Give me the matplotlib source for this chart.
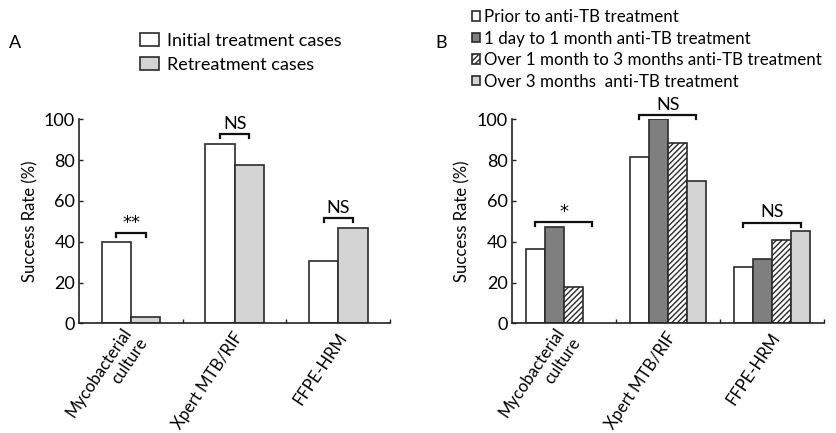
import numpy as np
import matplotlib
matplotlib.use("Agg")
import matplotlib.pyplot as plt
from matplotlib.transforms import ScaledTranslation

plt.rcParams['font.family'] = ['Lato', 'DejaVu Sans']
plt.rcParams['hatch.linewidth'] = 1.0

categories = ["Mycobacterial\nculture", "Xpert MTB/RIF", "FFPE-HRM"]

# Panel A
a_labels = ["Initial treatment cases", "Retreatment cases"]
a_initial = [40, 88, 30.5]
a_retreat = [3, 77.5, 46.5]
a_sig_heights = [44.4, 92.8, 51.5]
a_sig_text = ["**", "NS", "NS"]

# Panel B
b_labels = ["Prior to anti-TB treatment", "1 day to 1 month anti-TB treatment",
            "Over 1 month to 3 months anti-TB treatment", "Over 3 months  anti-TB treatment"]
b_prior = [36.3, 81.7, 27.5]
b_1day = [47.2, 100, 31.4]
b_1to3 = [18, 88.2, 40.8]
b_over3 = [np.nan, 69.9, 45.4]
b_sig_heights = [49.8, 102, 49.3]
b_sig_text = ["*", "NS", "NS"]
b_sig_span = [4, 4, 4]

yticks = [0, 20, 40, 60, 80, 100]

W, H = 836, 433
fig = plt.figure(figsize=(W / 100, H / 100), dpi=100)

edge = '#2b2b2b'
light = '#d4d4d4'
dark = '#7f7f7f'

axA = fig.add_axes([79.3 / W, 1 - 323.3 / H, (390 - 79.3) / W, (323.3 - 119.3) / H])
axB = fig.add_axes([511.7 / W, 1 - 323.3 / H, (824 - 511.7) / W, (323.3 - 119.3) / H])


def style_axis(ax):
    ax.set_xlim(-0.5, 2.5)
    ax.set_ylim(0, 100)
    ax.spines['top'].set_visible(False)
    ax.spines['right'].set_visible(False)
    for s in ['left', 'bottom']:
        ax.spines[s].set_linewidth(1.2)
        ax.spines[s].set_color('#222222')
    ax.set_yticks(yticks)
    ax.set_yticklabels([str(v) for v in yticks], fontsize=13)
    ax.set_xticks([0.5, 1.5, 2.5])
    ax.set_xticklabels([])
    ax.tick_params(axis='both', direction='in', length=3, width=1.0, color='#222222')
    ax.tick_params(axis='y', pad=3)
    ax.set_ylabel("Success Rate (%)", fontsize=12, labelpad=4)
    off = ScaledTranslation(5 / 100, -11 / 100, fig.dpi_scale_trans)
    for i, c in enumerate(categories):
        ax.text(i, 0, c, transform=ax.transData + off, rotation=56,
                rotation_mode='anchor', ha='right', va='center', fontsize=12,
                multialignment='right')


def sig_label(ax, xc, h, t):
    if '*' in t:
        ax.text(xc, h + 0.5, t, ha='center', va='bottom', fontsize=13,
                family=['DejaVu Sans'])
    else:
        ax.text(xc, h + 1.2, t, ha='center', va='bottom', fontsize=13)


x = np.arange(len(categories))

# ---- Panel A ----
wa = 0.284
barsA1 = axA.bar(x - wa / 2, a_initial, wa, color='white', edgecolor=edge, linewidth=1.2, label=a_labels[0])
barsA2 = axA.bar(x + wa / 2, a_retreat, wa, color=light, edgecolor=edge, linewidth=1.2, label=a_labels[1])
style_axis(axA)

for i, (h, t) in enumerate(zip(a_sig_heights, a_sig_text)):
    x0, x1 = i - wa / 2, i + wa / 2
    axA.plot([x0, x0, x1, x1], [h - 2, h, h, h - 2], color='#111111', lw=1.6, clip_on=False,
             solid_joinstyle='miter')
    sig_label(axA, (x0 + x1) / 2, h, t)

legA = fig.legend(handles=[barsA1, barsA2], labels=a_labels, loc='upper left',
                  bbox_to_anchor=(140 / W, 1 - 33 / H), frameon=False, fontsize=13,
                  handlelength=1.05, handleheight=0.75, handletextpad=0.45,
                  labelspacing=0.45, borderpad=0, borderaxespad=0)

# ---- Panel B ----
wb = 0.183
series_b = [b_prior, b_1day, b_1to3, b_over3]
colors_b = ['white', dark, 'white', light]
hatches_b = [None, None, '//////', None]
barsB = []
for k, (vals, col, hat, lab) in enumerate(zip(series_b, colors_b, hatches_b, b_labels)):
    b = axB.bar(x + (k - 1.5) * wb, vals, wb, color=col, edgecolor=edge, linewidth=1.2,
                hatch=hat, label=lab)
    barsB.append(b)
style_axis(axB)

for i, (h, t, n) in enumerate(zip(b_sig_heights, b_sig_text, b_sig_span)):
    x0, x1 = i - 1.5 * wb, i + (n - 1 - 1.5) * wb
    axB.plot([x0, x0, x1, x1], [h - 2, h, h, h - 2], color='#111111', lw=1.6, clip_on=False,
             solid_joinstyle='miter')
    sig_label(axB, (x0 + x1) / 2, h, t)

legB = fig.legend(handles=barsB, labels=b_labels, loc='upper left',
                  bbox_to_anchor=(472 / W, 1 - 9 / H), frameon=False, fontsize=12.2,
                  handlelength=0.48, handleheight=0.48, handletextpad=0.25,
                  labelspacing=0.33, borderpad=0, borderaxespad=0)

fig.text(9 / W, 1 - 43 / H, "A", fontsize=13, ha='left', va='center')
fig.text(435 / W, 1 - 43 / H, "B", fontsize=13, ha='left', va='center')

fig.savefig("out.png", dpi=100)
